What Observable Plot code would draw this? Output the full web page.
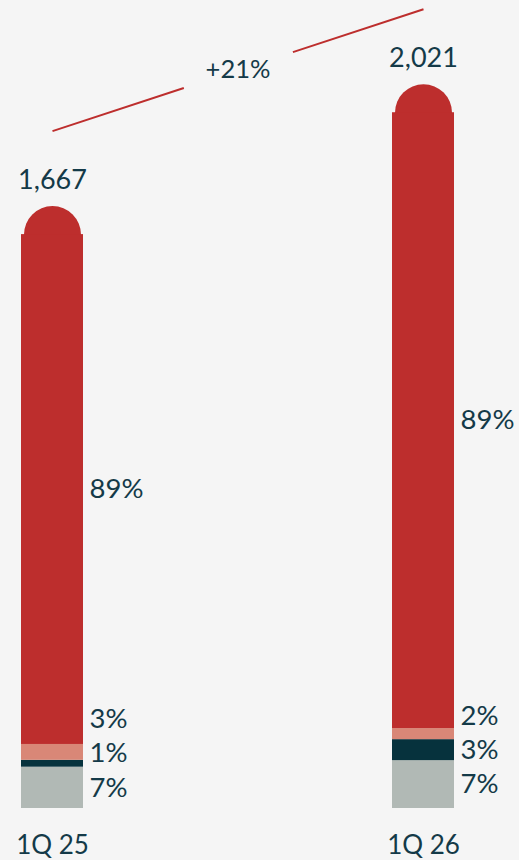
<!DOCTYPE html>
<html><head><meta charset="utf-8">
<script src="https://cdn.jsdelivr.net/npm/d3@7"></script>
<script src="https://cdn.jsdelivr.net/npm/@observablehq/plot@0.6"></script>
<style>
html,body{margin:0;padding:0;background:#f5f5f5;}
#chart svg{display:block;}
</style></head><body><div id="chart"></div>
<script>
// ---- data ----
const periods = ["1Q 25", "1Q 26"];
const segmentNames = ["seg4", "seg3", "seg2", "seg1"];   // bottom → top
const seg4Values = [120, 139];    // grey
const seg3Values = [20, 61];      // dark teal
const seg2Values = [46, 32];      // salmon
const seg1Values = [1481, 1789];  // red
const totalValues = [1667, 2021];
const growthLabel = "+21%";
const segmentColors = ["#b1b9b5", "#06323d", "#d98777", "#bd2e2d"];

// ---- build tables ----
const seriesValues = [seg4Values, seg3Values, seg2Values, seg1Values];
const rows = [];
const labels = [];
const minGap = 100; // label spacing in value units for small segments
periods.forEach((p, i) => {
  let base = 0, prevLabel = -Infinity;
  const total = totalValues[i];
  seriesValues.forEach((vals, k) => {
    const v = vals[i];
    const y1 = base, y2 = base + v;
    rows.push({period: p, segment: segmentNames[k], y1, y2, color: segmentColors[k]});
    const mid = (y1 + y2) / 2;
    let ly = k === seriesValues.length - 1 ? mid : Math.max(mid, prevLabel + minGap);
    prevLabel = ly;
    labels.push({period: p, ly, text: Math.round(v / total * 100) + "%"});
    base = y2;
  });
});
const totals = periods.map((p, i) => ({period: p, total: totalValues[i]}));
const fmt = d3.format(",");

const RED = segmentColors[3];
const TEXT = "#143a48";
const capR = 28.5;

const plot = Plot.plot({
  width: 519,
  height: 860,
  marginTop: 0,
  marginBottom: 52,
  marginLeft: 0,
  marginRight: 44,
  style: {background: "#f5f5f5", color: TEXT, fontFamily: "Lato, sans-serif", fontSize: "26px"},
  x: {domain: periods, paddingInner: 0.8329, paddingOuter: 0.0566, tickSize: 0, tickPadding: 27, label: null},
  y: {domain: [0, 2347], axis: null},
  marks: [
    Plot.dot(totals, {x: "period", y: "total", r: capR, fill: RED, stroke: null}),
    Plot.barY(rows, {x: "period", y1: "y1", y2: "y2", fill: "color"}),
    Plot.text(labels, {x: "period", y: "ly", text: "text", dx: 37, textAnchor: "start", fontSize: 27.5, fill: TEXT}),
    Plot.text(totals, {x: "period", y: "total", text: d => fmt(d.total), dy: -(capR + 17), lineAnchor: "bottom", fontSize: 27, fill: TEXT}),
    Plot.link([{a: periods[0], b: periods[1], ya: totalValues[0], yb: totalValues[1]}],
      {x1: "a", x2: "b", y1: "ya", y2: "yb", dy: -(capR + 75), stroke: RED, strokeWidth: 2}),
    Plot.text([{y: d3.mean(totalValues)}], {y: "y", text: () => growthLabel, dy: -(capR + 75), lineAnchor: "middle", fontSize: 25.5, fill: TEXT})
  ]
});
document.getElementById("chart").appendChild(plot);

// gap in the growth line around its label
const linkPath = plot.querySelector('g[aria-label="link"] path');
if (linkPath && linkPath.getTotalLength) {
  const L = linkPath.getTotalLength();
  const gapStart = 0.354, gapEnd = 0.648;
  linkPath.setAttribute("stroke-dasharray", `${gapStart * L} ${(gapEnd - gapStart) * L} ${L}`);
}
</script></body></html>
